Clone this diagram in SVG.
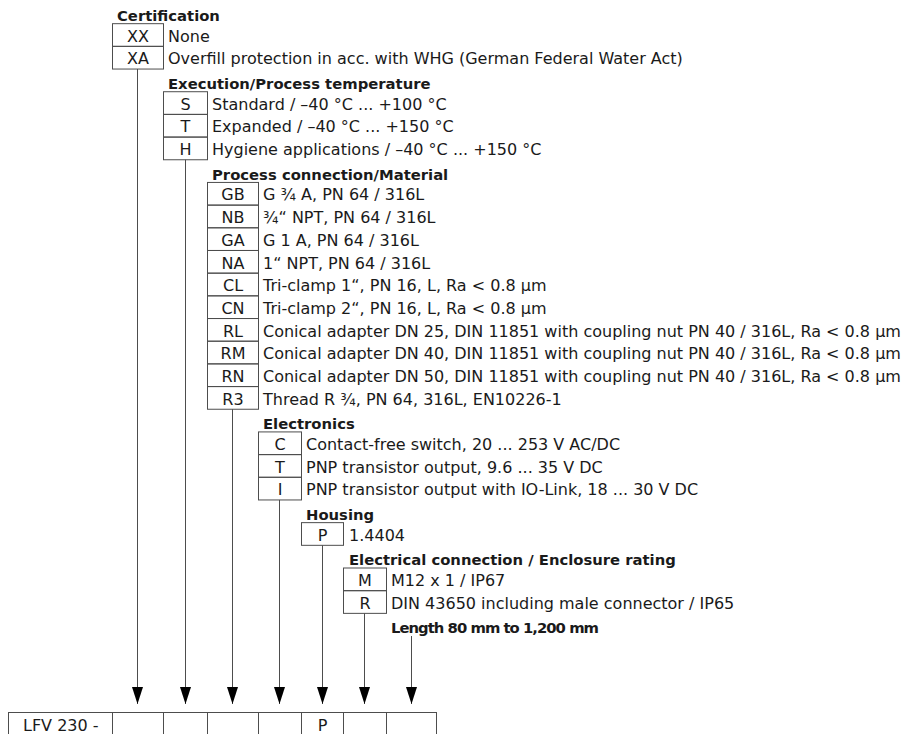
<svg xmlns="http://www.w3.org/2000/svg" width="911" height="734" viewBox="0 0 911 734">
<style>
text{font-family:"DejaVu Sans","Liberation Sans",sans-serif;font-size:16px;fill:#1a1a1a}
.h{font-weight:bold;font-size:14.8px}
.c{text-anchor:middle}
.box{fill:none;stroke:#4d4d4d;stroke-width:1}
.ln{stroke:#4d4d4d;stroke-width:1;fill:none}
</style>
<defs>
<marker id="ah" viewBox="0 0 17 11" refX="17" refY="5.5" markerWidth="17" markerHeight="11" markerUnits="userSpaceOnUse" orient="auto">
<path d="M0,0 L17,5.5 L0,11 z" fill="#000"/>
</marker>
</defs>
<rect width="911" height="734" fill="#fff"/>

<g id="certification">
<text class="h" x="117" y="21">Certification</text>
<rect class="box" x="112.5" y="23.68" width="51" height="22.68"/>
<text class="c" x="138" y="41.7">XX</text>
<text x="168" y="41.7">None</text>
<rect class="box" x="112.5" y="46.36" width="51" height="22.68"/>
<text class="c" x="138" y="64.4">XA</text>
<text x="168" y="64.4">Overfill protection in acc. with WHG (German Federal Water Act)</text>
</g>

<g id="execution">
<text class="h" x="168" y="89">Execution/Process temperature</text>
<rect class="box" x="163.5" y="91.72" width="44" height="22.68"/>
<text class="c" x="185.5" y="109.7">S</text>
<text x="212" y="109.7">Standard / –40 °C ... +100 °C</text>
<rect class="box" x="163.5" y="114.4" width="44" height="22.68"/>
<text class="c" x="185.5" y="132.4">T</text>
<text x="212" y="132.4">Expanded / –40 °C ... +150 °C</text>
<rect class="box" x="163.5" y="137.08" width="44" height="22.68"/>
<text class="c" x="185.5" y="155.1">H</text>
<text x="212" y="155.1">Hygiene applications / –40 °C ... +150 °C</text>
</g>

<g id="process-connection">
<text class="h" x="212" y="179.8">Process connection/Material</text>
<rect class="box" x="207.5" y="182.44" width="51" height="22.68"/>
<text class="c" x="233" y="200.4">GB</text>
<text x="263" y="200.4">G ¾ A, PN 64 / 316L</text>
<rect class="box" x="207.5" y="205.12" width="51" height="22.68"/>
<text class="c" x="233" y="223.1">NB</text>
<text x="263" y="223.1">¾“ NPT, PN 64 / 316L</text>
<rect class="box" x="207.5" y="227.8" width="51" height="22.68"/>
<text class="c" x="233" y="245.8">GA</text>
<text x="263" y="245.8">G 1 A, PN 64 / 316L</text>
<rect class="box" x="207.5" y="250.48" width="51" height="22.68"/>
<text class="c" x="233" y="268.5">NA</text>
<text x="263" y="268.5">1“ NPT, PN 64 / 316L</text>
<rect class="box" x="207.5" y="273.16" width="51" height="22.68"/>
<text class="c" x="233" y="291.2">CL</text>
<text x="263" y="291.2">Tri-clamp 1“, PN 16, L, Ra &lt; 0.8 µm</text>
<rect class="box" x="207.5" y="295.84" width="51" height="22.68"/>
<text class="c" x="233" y="313.8">CN</text>
<text x="263" y="313.8">Tri-clamp 2“, PN 16, L, Ra &lt; 0.8 µm</text>
<rect class="box" x="207.5" y="318.52" width="51" height="22.68"/>
<text class="c" x="233" y="336.5">RL</text>
<text x="263" y="336.5">Conical adapter DN 25, DIN 11851 with coupling nut PN 40 / 316L, Ra &lt; 0.8 µm</text>
<rect class="box" x="207.5" y="341.2" width="51" height="22.68"/>
<text class="c" x="233" y="359.2">RM</text>
<text x="263" y="359.2">Conical adapter DN 40, DIN 11851 with coupling nut PN 40 / 316L, Ra &lt; 0.8 µm</text>
<rect class="box" x="207.5" y="363.88" width="51" height="22.68"/>
<text class="c" x="233" y="381.9">RN</text>
<text x="263" y="381.9">Conical adapter DN 50, DIN 11851 with coupling nut PN 40 / 316L, Ra &lt; 0.8 µm</text>
<rect class="box" x="207.5" y="386.56" width="51" height="22.68"/>
<text class="c" x="233" y="404.6">R3</text>
<text x="263" y="404.6">Thread R ¾, PN 64, 316L, EN10226-1</text>
</g>

<g id="electronics">
<text class="h" x="263" y="429.2">Electronics</text>
<rect class="box" x="258.5" y="431.92" width="43" height="22.68"/>
<text class="c" x="280" y="449.9">C</text>
<text x="306" y="449.9">Contact-free switch, 20 ... 253 V AC/DC</text>
<rect class="box" x="258.5" y="454.6" width="43" height="22.68"/>
<text class="c" x="280" y="472.6">T</text>
<text x="306" y="472.6">PNP transistor output, 9.6 ... 35 V DC</text>
<rect class="box" x="258.5" y="477.28" width="43" height="22.68"/>
<text class="c" x="280" y="495.3">I</text>
<text x="306" y="495.3">PNP transistor output with IO-Link, 18 ... 30 V DC</text>
</g>

<g id="housing">
<text class="h" x="306" y="520">Housing</text>
<rect class="box" x="301.5" y="522.64" width="42" height="22.68"/>
<text class="c" x="322.5" y="540.6">P</text>
<text x="349" y="540.6">1.4404</text>
</g>

<g id="electrical-connection">
<text class="h" x="349" y="565.3">Electrical connection / Enclosure rating</text>
<rect class="box" x="343.5" y="568" width="43" height="22.68"/>
<text class="c" x="365" y="586">M</text>
<text x="391" y="586">M12 x 1 / IP67</text>
<rect class="box" x="343.5" y="590.68" width="43" height="22.68"/>
<text class="c" x="365" y="608.7">R</text>
<text x="391" y="608.7">DIN 43650 including male connector / IP65</text>
</g>

<g id="length">
<text class="h" x="391" y="633.4" textLength="208" lengthAdjust="spacing">Length 80 mm to 1,200 mm</text>
</g>

<g id="connectors">
<line class="ln" x1="137.5" y1="69.04" x2="137.5" y2="704" marker-end="url(#ah)"/>
<line class="ln" x1="185.5" y1="159.76" x2="185.5" y2="704" marker-end="url(#ah)"/>
<line class="ln" x1="232.5" y1="409.24" x2="232.5" y2="704" marker-end="url(#ah)"/>
<line class="ln" x1="279.5" y1="499.96" x2="279.5" y2="704" marker-end="url(#ah)"/>
<line class="ln" x1="322.5" y1="545.32" x2="322.5" y2="704" marker-end="url(#ah)"/>
<line class="ln" x1="364.5" y1="613.36" x2="364.5" y2="704" marker-end="url(#ah)"/>
<line class="ln" x1="411.5" y1="636" x2="411.5" y2="704" marker-end="url(#ah)"/>
</g>

<g id="type-code">
<rect class="box" x="8.5" y="712.5" width="428" height="30"/>
<line class="ln" x1="112.5" y1="712.5" x2="112.5" y2="742"/>
<line class="ln" x1="163.5" y1="712.5" x2="163.5" y2="742"/>
<line class="ln" x1="207.5" y1="712.5" x2="207.5" y2="742"/>
<line class="ln" x1="258.5" y1="712.5" x2="258.5" y2="742"/>
<line class="ln" x1="301.5" y1="712.5" x2="301.5" y2="742"/>
<line class="ln" x1="343.5" y1="712.5" x2="343.5" y2="742"/>
<line class="ln" x1="386.5" y1="712.5" x2="386.5" y2="742"/>
<text x="23" y="731">LFV 230 -</text>
<text class="c" x="322.5" y="731">P</text>
</g>
</svg>
